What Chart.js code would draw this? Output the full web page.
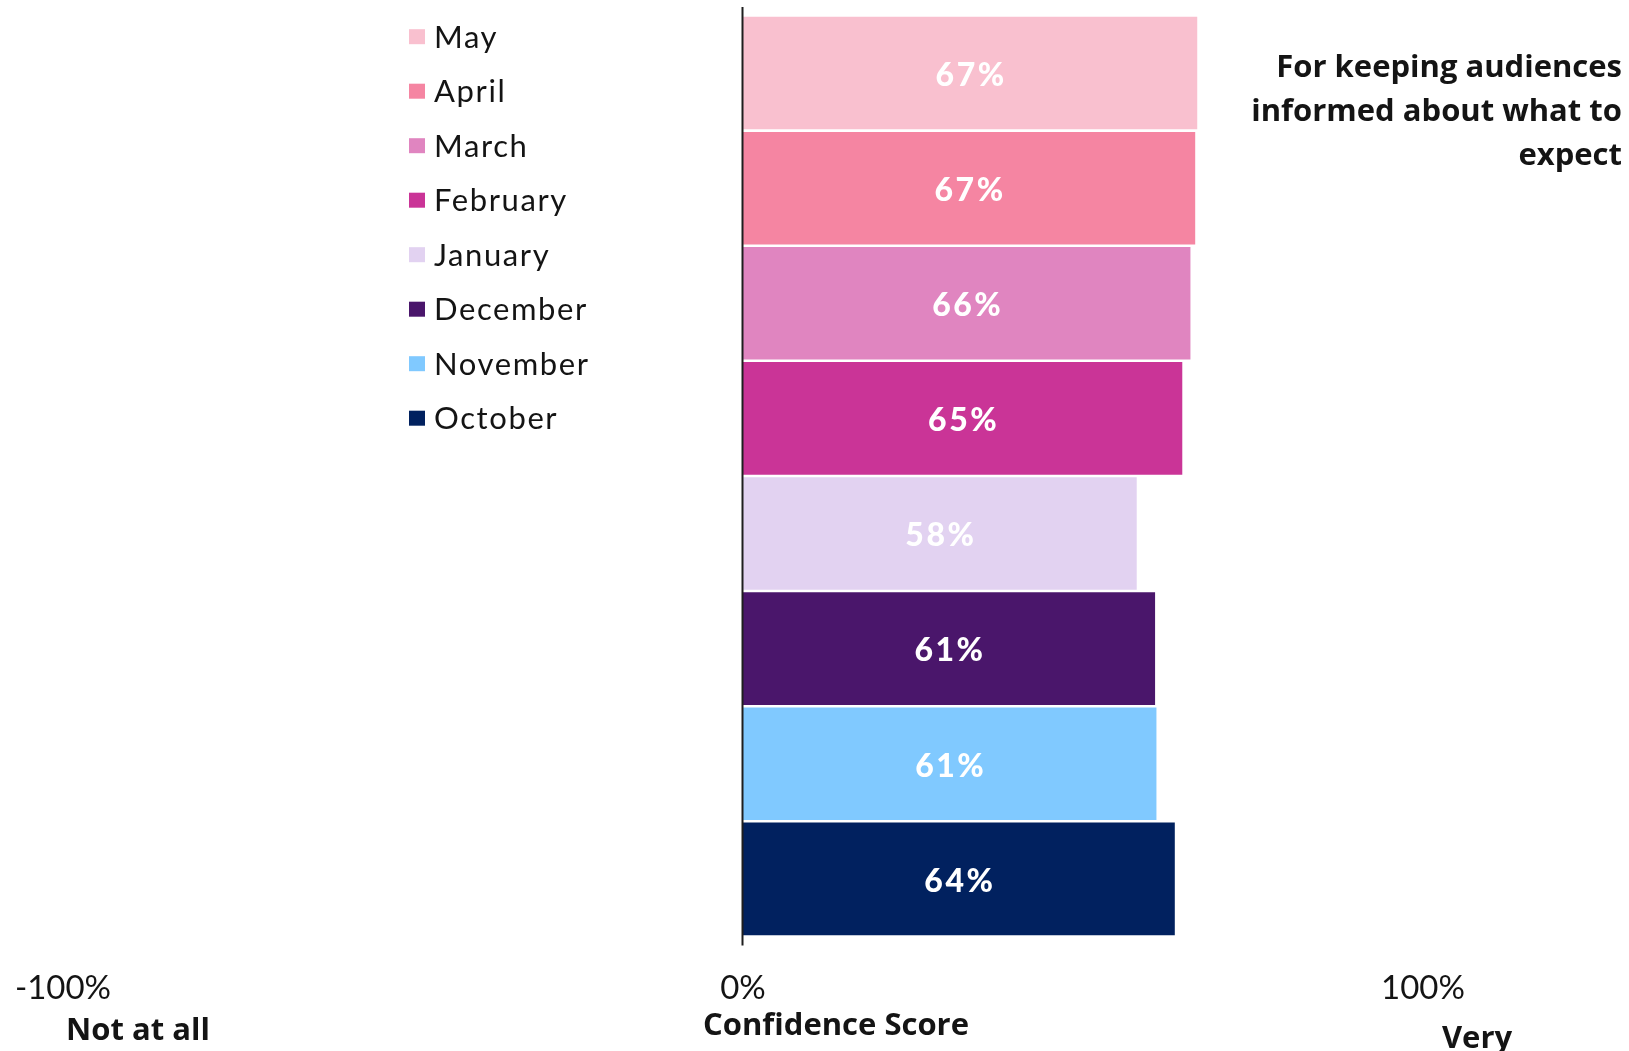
<!DOCTYPE html>
<html>
<head>
<meta charset="utf-8">
<script src="https://cdn.jsdelivr.net/npm/chart.js@4"></script>
<style>
html,body{margin:0;padding:0;background:#fff;}
#wrap{width:1629px;height:1051px;position:relative;}
</style>
</head>
<body>
<div id="wrap"><canvas id="c" width="1629" height="1051"></canvas></div>
<script>
const months = ["May", "April", "March", "February", "January", "December", "November", "October"];
const scores = [66.8, 66.5, 65.8, 64.6, 57.9, 60.6, 60.8, 63.5];
const barColors = ["#F9C0CF", "#F585A2", "#E085C0", "#CA3497", "#E2D2F1", "#4A166B", "#80C9FF", "#01215F"];
const tickValues = [-100, 0, 100];
const titleLines = ["For keeping audiences", "informed about what to", "expect"];
const axisTitle = "Confidence Score";
const leftLabel = "Not at all";
const rightLabel = "Very";

const extras = {
  id: 'extras',
  afterDatasetsDraw(chart) {
    const ctx = chart.ctx;
    const xs = chart.scales.x;
    const ca = chart.chartArea;
    const meta = chart.getDatasetMeta(0);
    ctx.save();
    // value labels
    ctx.fillStyle = '#ffffff';
    ctx.font = '900 32px Lato';
    ctx.letterSpacing = '2.5px';
    ctx.textAlign = 'center';
    ctx.textBaseline = 'middle';
    meta.data.forEach((bar, i) => {
      const cx = (xs.getPixelForValue(0) + bar.x) / 2;
      ctx.fillText(Math.round(scores[i]) + '%', cx + 1, bar.y + 2.5);
    });
    // zero line
    const x0 = xs.getPixelForValue(0);
    ctx.letterSpacing = '0px';
    ctx.strokeStyle = '#1e1e1e';
    ctx.lineWidth = 2;
    ctx.beginPath();
    ctx.moveTo(x0 - 0.5, ca.top - 8.5);
    ctx.lineTo(x0 - 0.5, ca.bottom + 9);
    ctx.stroke();
    // legend
    ctx.textAlign = 'left';
    ctx.textBaseline = 'middle';
    ctx.font = '31px Lato';
    ctx.letterSpacing = '1.6px';
    months.forEach((m, i) => {
      const y = 36.7 + i * 54.5;
      ctx.fillStyle = barColors[i];
      ctx.fillRect(409, y - 7.5, 16, 15);
      ctx.fillStyle = '#141414';
      ctx.fillText(m, 434, y + 1);
    });
    ctx.letterSpacing = '0px';
    // title
    ctx.textAlign = 'right';
    ctx.font = 'bold 31px "Open Sans"';
    ctx.fillStyle = '#141414';
    titleLines.forEach((t, i) => {
      ctx.fillText(t, 1622, 68 + i * 44);
    });
    // axis titles
    ctx.textAlign = 'center';
    ctx.font = 'bold 31px "Open Sans"';
    ctx.fillText(axisTitle, 836, 1026);
    ctx.fillText(leftLabel, 138, 1031);
    ctx.fillText(rightLabel, 1477, 1039);
    ctx.restore();
  }
};

new Chart(document.getElementById('c'), {
  type: 'bar',
  data: {
    labels: months,
    datasets: [{
      data: scores,
      backgroundColor: barColors,
      borderWidth: 0,
      barPercentage: 0.978,
      categoryPercentage: 1
    }]
  },
  options: {
    indexAxis: 'y',
    responsive: false,
    animation: false,
    devicePixelRatio: 1,
    layout: { padding: { left: 63, right: 206, top: 15.5, bottom: 11 } },
    plugins: { legend: { display: false }, tooltip: { enabled: false } },
    scales: {
      y: { display: false },
      x: {
        min: -100, max: 100,
        afterBuildTicks(scale) { scale.ticks = tickValues.map(v => ({ value: v })); },
        afterFit(scale) { scale.paddingLeft = 0; scale.paddingRight = 0; },
        grid: { display: false, drawTicks: false },
        border: { display: false },
        ticks: {
          padding: 32,
          color: '#141414',
          font: { family: 'Lato', size: 33 },
          maxRotation: 0,
          callback: v => v + '%'
        }
      }
    }
  },
  plugins: [extras]
});
</script>
</body>
</html>
